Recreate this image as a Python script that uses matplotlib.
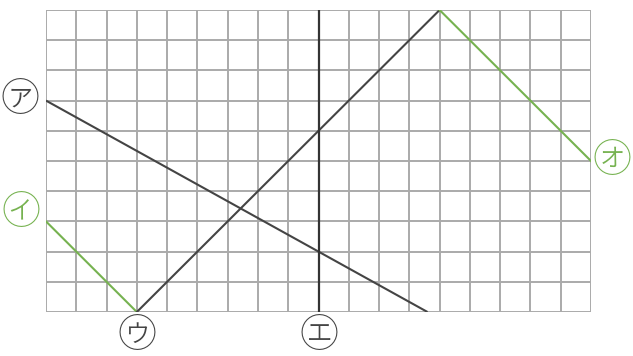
import matplotlib
matplotlib.use("Agg")
import matplotlib.pyplot as plt

plt.rcParams['font.family'] = ['Noto Sans CJK JP', 'DejaVu Sans']

n_cols = 18
n_rows = 10

# line data in grid units
line_a_x = [0, 12.6]; line_a_y = [7, 0]      # ア
line_i_x = [0, 3];    line_i_y = [3, 0]      # イ
line_u_x = [3, 13];   line_u_y = [0, 10]     # ウ
line_e_x = [9, 9];    line_e_y = [0, 10]     # エ
line_o_x = [13, 18];  line_o_y = [10, 5]     # オ

labels = ['㋐', '㋑', '㋒', '㋓', '㋔']
label_x = [-0.86, -0.83, 3.0, 9.0, 18.7]
label_y = [7.0, 3.28, -0.8, -0.8, 5.0]

dark = '#444444'
green = '#76b250'
gridc = '#aaaaaa'

fig = plt.figure(figsize=(6.33, 3.56), dpi=100)
ax = fig.add_axes([46/633, 44/356, 545/633, 302/356])
ax.set_xlim(0, n_cols)
ax.set_ylim(0, n_rows)
for x in range(n_cols + 1):
    ax.axvline(x, color=gridc, lw=1.4, zorder=1)
for y in range(n_rows + 1):
    ax.axhline(y, color=gridc, lw=1.4, zorder=1)
for s in ax.spines.values():
    s.set_visible(False)
ax.set_xticks([]); ax.set_yticks([])

ax.plot(line_a_x, line_a_y, color=dark, lw=1.5, zorder=3, solid_capstyle='butt')
ax.plot(line_i_x, line_i_y, color=green, lw=1.5, zorder=3)
ax.plot(line_u_x, line_u_y, color=dark, lw=1.5, zorder=3)
ax.plot(line_e_x, line_e_y, color='#333333', lw=1.6, zorder=3)
ax.plot(line_o_x, line_o_y, color=green, lw=1.5, zorder=3)

label_colors = [dark, green, dark, dark, green]
for t, x, y, c in zip(labels, label_x, label_y, label_colors):
    ax.text(x, y, t, color=c, fontsize=28, ha='center', va='center',
            fontweight='light', clip_on=False)

fig.savefig('out.png', dpi=100)
